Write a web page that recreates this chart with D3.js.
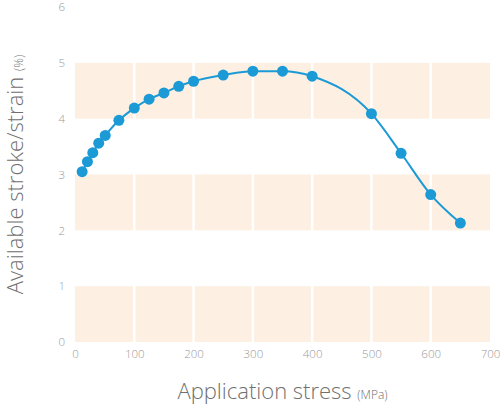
<!DOCTYPE html>
<html>
<head>
<meta charset="utf-8">
<script src="https://cdn.jsdelivr.net/npm/d3@7"></script>
<style>
  html, body { margin: 0; padding: 0; background: #fff; }
  text { font-family: "Open Sans", Lato, sans-serif; }
</style>
</head>
<body>
<div id="chart"></div>
<script>
// stress (MPa) vs available stroke/strain (%)
const stress = [12, 21, 30, 40, 51, 74, 100, 125, 150, 175, 200, 250, 300, 350, 400, 500, 550, 600, 650];
const strain = [3.05, 3.23, 3.39, 3.56, 3.70, 3.97, 4.19, 4.35, 4.46, 4.58, 4.67, 4.78, 4.85, 4.85, 4.76, 4.09, 3.38, 2.64, 2.13];
const xTicks = [0, 100, 200, 300, 400, 500, 600, 700];
const yTicks = [0, 1, 2, 3, 4, 5, 6];
const bands = [[0, 1], [2, 3], [4, 5]];   // shaded rows

const W = 500, H = 411;
const m = { top: 7, right: 10, bottom: 69, left: 75 };

const svg = d3.select('#chart').append('svg')
  .attr('width', W).attr('height', H);

const x = d3.scaleLinear().domain([0, 700]).range([m.left, W - m.right]);
const y = d3.scaleLinear().domain([0, 6]).range([H - m.bottom, m.top]);

// bandes couleur pêche
svg.append('g')
  .selectAll('rect')
  .data(bands)
  .join('rect')
    .attr('x', x(0))
    .attr('width', x(700) - x(0))
    .attr('y', d => y(d[1]))
    .attr('height', d => y(d[0]) - y(d[1]))
    .attr('fill', '#fdf0e3');

// lignes verticales blanches
svg.append('g')
  .selectAll('line')
  .data(xTicks.slice(1, -1))
  .join('line')
    .attr('x1', d => x(d)).attr('x2', d => x(d))
    .attr('y1', y(6)).attr('y2', y(0))
    .attr('stroke', '#fff').attr('stroke-width', 2.5);

// axes (sans trait, seulement labels)
const xAxis = svg.append('g')
  .attr('transform', `translate(0,${y(0)})`)
  .call(d3.axisBottom(x).tickValues(xTicks).tickSize(0).tickPadding(8));
const yAxis = svg.append('g')
  .attr('transform', `translate(${x(0)},0)`)
  .call(d3.axisLeft(y).tickValues(yTicks).tickFormat(d3.format('d')).tickSize(0).tickPadding(10));
[xAxis, yAxis].forEach(g => {
  g.select('.domain').remove();
  g.selectAll('text').attr('fill', '#9a9a9a').attr('font-size', 11.5).attr('font-weight', 300)
    .style('font-family', '"Open Sans", Lato, sans-serif');
});

// courbe
const pts = stress.map((s, i) => [s, strain[i]]);
svg.append('path')
  .datum(pts)
  .attr('d', d3.line().x(d => x(d[0])).y(d => y(d[1])).curve(d3.curveMonotoneX))
  .attr('fill', 'none')
  .attr('stroke', '#1b9ad6')
  .attr('stroke-width', 2);

svg.append('g')
  .selectAll('circle')
  .data(pts)
  .join('circle')
    .attr('cx', d => x(d[0]))
    .attr('cy', d => y(d[1]))
    .attr('r', 5.5)
    .attr('fill', '#1b9ad6');

// titres des axes
const xt = svg.append('text')
  .attr('x', (x(0) + x(700)) / 2).attr('y', 399)
  .attr('text-anchor', 'middle')
  .attr('fill', '#707070').attr('font-weight', 300);
xt.append('tspan').attr('font-size', 22).text('Application stress ');
xt.append('tspan').attr('font-size', 12).text('(MPa)');

const yt = svg.append('text')
  .attr('transform', `translate(23,${(y(0) + y(6)) / 2}) rotate(-90)`)
  .attr('text-anchor', 'middle')
  .attr('fill', '#707070').attr('font-weight', 300);
yt.append('tspan').attr('font-size', 22).text('Available stroke/strain ');
yt.append('tspan').attr('font-size', 12).text('(%)');
</script>
</body>
</html>
